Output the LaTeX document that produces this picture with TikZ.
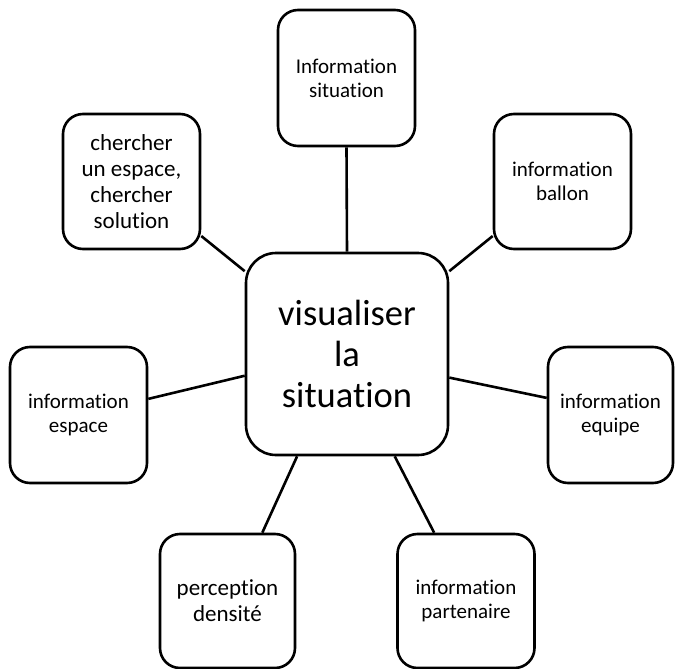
\documentclass[tikz,border=0pt]{standalone}
\usepackage{fontspec}
\setmainfont{Carlito}[Ligatures={NoCommon,NoRare,NoContextual}]
\begin{document}
\begin{tikzpicture}[x=1pt,y=-1pt,
  box/.style={draw=black, line width=2.6pt, rounded corners=20pt, inner sep=0pt,
    align=center, minimum width=137pt, minimum height=136pt, font=\fontsize{21}{24}\selectfont},
  bigtxt/.style={font=\fontsize{23}{26}\selectfont},
  link/.style={draw=black, line width=2.6pt}]
\useasboundingbox (0,0) rectangle (675,669);
\node[box, rounded corners=30pt, minimum width=202pt, minimum height=202pt,
  font=\fontsize{36.5}{41}\selectfont] (c) at (347,354) {visualiser\\la\\situation};
\node[box] (t) at (346.5,78) {Information\\situation};
\node[box, bigtxt, minimum height=135pt] (tl) at (131.5,181.5) {chercher\\un espace,\\chercher\\solution};
\node[box, minimum height=135pt] (tr) at (562.5,181.5) {information\\ballon};
\node[box] (l) at (78.5,415) {information\\espace};
\node[box, minimum width=125pt] (r) at (610.5,415) {information\\equipe};
\node[box, bigtxt, minimum width=135pt, minimum height=134pt] (pd) at (227.5,601) {perception\\densité};
\node[box, minimum height=134pt] (ip) at (466,601) {information\\partenaire};
\draw[link] (t.south) -- (c.north);
\draw[link] (tl.-38) -- (c.141);
\draw[link] (tr.218) -- (c.39);
\draw[link] (l.13) -- (c.192.8);
\draw[link] (r.165.6) -- (c.347.2);
\draw[link] (pd.63.8) -- (c.244.1);
\draw[link] (ip.115.2) -- (c.295.9);
\end{tikzpicture}
\end{document}
